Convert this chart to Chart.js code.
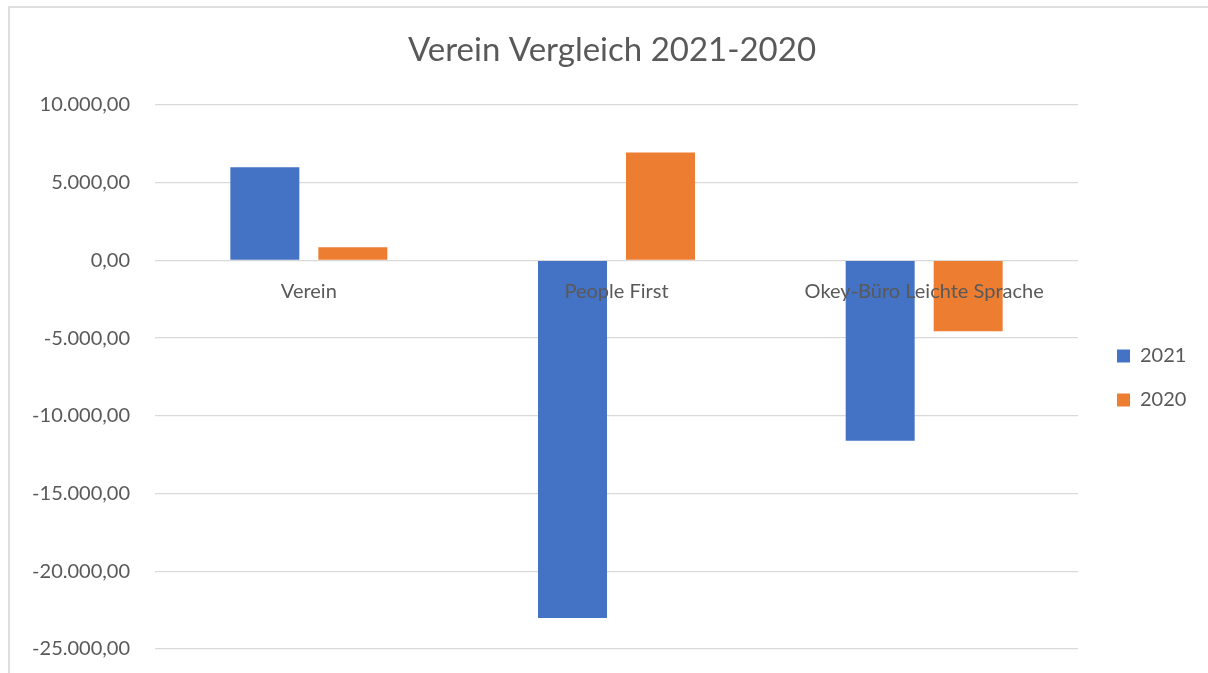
<!DOCTYPE html>
<html>
<head>
<meta charset="utf-8">
<script src="https://cdn.jsdelivr.net/npm/chart.js@4"></script>
<style>
  html, body { margin: 0; padding: 0; width: 1208px; height: 673px; overflow: hidden; background: #fff; }
  #frame { position: absolute; left: 8px; top: 6px; width: 1400px; height: 900px; border: 2px solid #dedede; box-sizing: border-box; }
  #wrap { position: absolute; left: 0; top: 0; width: 1224px; height: 673px; }
</style>
</head>
<body>
<div id="frame"></div>
<div id="wrap"><canvas id="c" width="1224" height="673"></canvas></div>
<script>
const categories = ['Verein', 'People First', 'Okey-Büro Leichte Sprache'];
const values2021 = [6000, -23000, -11600];
const values2020 = [850, 6950, -4550];
const seriesNames = ['2021', '2020'];
const chartTitle = 'Verein Vergleich 2021-2020';

function fmtDE(v) {
  const neg = v < 0;
  const a = Math.abs(v);
  const int = Math.floor(a).toString().replace(/\B(?=(\d{3})+(?!\d))/g, '.');
  const dec = (Math.round((a - Math.floor(a)) * 100)).toString().padStart(2, '0');
  return (neg ? '-' : '') + int + ',' + dec;
}

const FONT = 'Lato';
const TXT = '#595959';

const legendFix = {
  id: 'legendFix',
  afterInit(chart) {
    const lg = chart.legend;
    if (!lg) return;
    const orig = lg.fit.bind(lg);
    lg.fit = function () { orig(); this.width = 131; };
  },
  afterLayout(chart) {
    const lg = chart.legend;
    if (!lg) return;
    lg.top += 38;
    lg.bottom += 38;
  }
};

new Chart(document.getElementById('c'), {
  type: 'bar',
  data: {
    labels: categories,
    datasets: [
      { label: seriesNames[0], data: values2021, backgroundColor: '#4472C4', categoryPercentage: 0.572, barPercentage: 0.784 },
      { label: seriesNames[1], data: values2020, backgroundColor: '#ED7D31', categoryPercentage: 0.572, barPercentage: 0.784 }
    ]
  },
  plugins: [legendFix],
  options: {
    responsive: false,
    animation: false,
    layout: { padding: { left: 0, right: 0, top: 31, bottom: 24 } },
    plugins: {
      title: {
        display: true,
        text: chartTitle,
        color: TXT,
        font: { family: FONT, size: 33, weight: 'normal' },
        padding: { top: 0, bottom: 34.4 }
      },
      legend: {
        position: 'right',
        align: 'center',
        labels: {
          color: TXT,
          font: { family: FONT, size: 20 },
          boxWidth: 13,
          boxHeight: 13,
          padding: 24
        }
      },
      tooltip: { enabled: false }
    },
    scales: {
      x: {
        position: { y: 0 },
        afterFit(s) { s.height = 0; },
        grid: { display: false, drawTicks: false },
        border: { display: false },
        ticks: { z: 1, color: TXT, font: { family: FONT, size: 20 }, padding: 19, maxRotation: 0, autoSkip: false }
      },
      y: {
        min: -25000,
        max: 10000,
        afterFit(s) { s.width = 155; },
        grid: { color: '#d9d9d9', lineWidth: 1.3, drawTicks: true, tickLength: 25, tickColor: 'rgba(0,0,0,0)' },
        border: { display: false },
        ticks: {
          stepSize: 5000,
          padding: 0,
          color: TXT,
          font: { family: FONT, size: 20 },
          callback: (v) => fmtDE(v)
        }
      },
      gap: {
        type: 'linear',
        position: 'right',
        display: true,
        afterFit(s) { s.width = 15; },
        grid: { display: false, drawTicks: false },
        border: { display: false },
        ticks: { display: false }
      }
    }
  }
});
</script>
</body>
</html>
